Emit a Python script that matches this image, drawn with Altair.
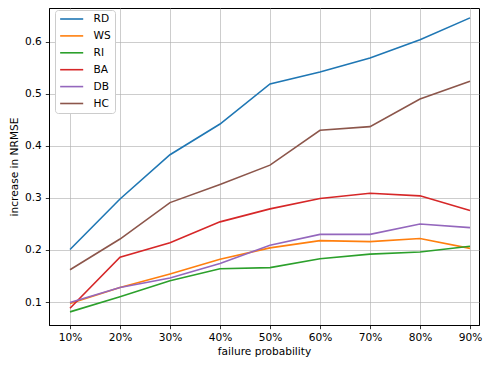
import altair as alt
import pandas as pd

probs = [10, 20, 30, 40, 50, 60, 70, 80, 90]
series_names = ["RD", "WS", "RI", "BA", "DB", "HC"]
rd = [0.201, 0.298, 0.383, 0.442, 0.519, 0.542, 0.569, 0.604, 0.646]
ws = [0.097, 0.128, 0.154, 0.182, 0.204, 0.218, 0.216, 0.222, 0.203]
ri = [0.081, 0.110, 0.141, 0.164, 0.166, 0.183, 0.192, 0.196, 0.207]
ba = [0.088, 0.186, 0.214, 0.254, 0.279, 0.299, 0.309, 0.304, 0.276]
db = [0.099, 0.128, 0.146, 0.174, 0.209, 0.230, 0.230, 0.250, 0.243]
hc = [0.162, 0.221, 0.291, 0.326, 0.363, 0.430, 0.437, 0.490, 0.524]
colors = ["#1f77b4", "#ff7f0e", "#2ca02c", "#d62728", "#9467bd", "#8c564b"]

rows = []
for name, vals in zip(series_names, [rd, ws, ri, ba, db, hc]):
    for p, v in zip(probs, vals):
        rows.append({"prob": p, "value": v, "series": name, "order": series_names.index(name)})
df = pd.DataFrame(rows)

font = "DejaVu Sans"

chart = alt.Chart(df).mark_line(strokeWidth=1.6, clip=True).encode(
    x=alt.X("prob:Q",
            scale=alt.Scale(domain=[5.8, 91.8], nice=False, zero=False),
            axis=alt.Axis(values=probs, labelExpr="datum.value + '%'",
                          title="failure probability", grid=True)),
    y=alt.Y("value:Q",
            scale=alt.Scale(domain=[0.0558, 0.665], nice=False, zero=False),
            axis=alt.Axis(values=[0.1, 0.2, 0.3, 0.4, 0.5, 0.6], format=".1f",
                          title="increase in NRMSE", grid=True)),
    color=alt.Color("series:N",
                    scale=alt.Scale(domain=series_names, range=colors),
                    legend=alt.Legend(title=None, orient="none", legendX=6, legendY=2,
                                      symbolType="M-1,0H5", symbolSize=59,
                                      symbolStrokeWidth=1.6,
                                      fillColor="white", strokeColor="#cccccc",
                                      cornerRadius=3, padding=3.7, rowPadding=5.9,
                                      labelFont=font, labelFontSize=10.6,
                                      labelColor="#000000", labelOffset=24.3)),
    detail="series:N",
    order="order:Q",
).properties(
    width=430, height=317,
    padding={"left": 41, "top": 0, "right": 4, "bottom": 34},
    autosize=alt.AutoSizeParams(type="none"),
).configure_view(
    stroke="#000000", strokeWidth=1,
).configure_axis(
    labelFont=font, labelFontSize=10.6, labelColor="#000000",
    titleFont=font, titleFontSize=10.6, titleColor="#000000", titleFontWeight="normal",
    gridColor="#b0b0b0", gridWidth=0.8, gridOpacity=0.8,
    tickColor="#000000", tickSize=3.7, tickWidth=0.8,
    domainColor="#000000", domainWidth=1,
    labelPadding=4,
).configure_axisY(
    titlePadding=5,
).configure_axisX(
    titlePadding=3,
)

chart.save("out.html", embed_options={"renderer": "svg", "actions": False})
